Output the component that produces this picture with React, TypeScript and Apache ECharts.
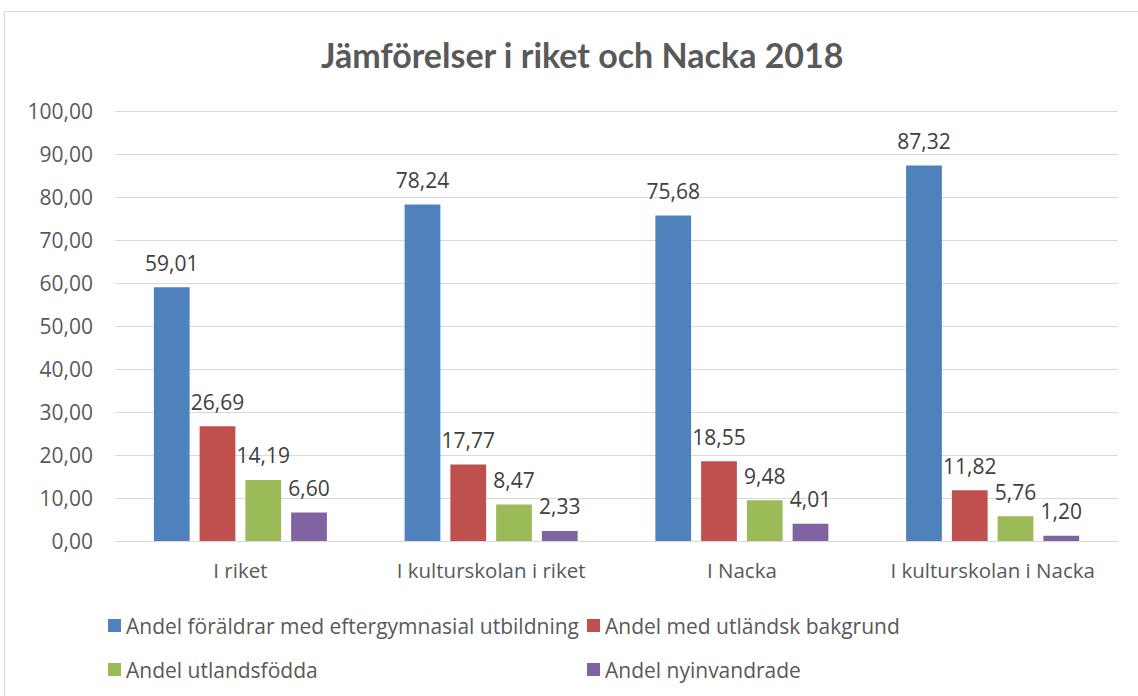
import React, { useEffect, useRef } from "react";
import * as echarts from "echarts";

const categories = ["I riket", "I kulturskolan i riket", "I Nacka", "I kulturskolan i Nacka"];
const seriesNames = [
  "Andel föräldrar med eftergymnasial utbildning",
  "Andel med utländsk bakgrund",
  "Andel utlandsfödda",
  "Andel nyinvandrade",
];
const foraldrar = [59.01, 78.24, 75.68, 87.32];
const utlandskBakgrund = [26.69, 17.77, 18.55, 11.82];
const utlandsfodda = [14.19, 8.47, 9.48, 5.76];
const nyinvandrade = [6.6, 2.33, 4.01, 1.2];
const seriesValues = [foraldrar, utlandskBakgrund, utlandsfodda, nyinvandrade];
const colors = ["#4F81BD", "#C0504D", "#9BBB59", "#8064A2"];

const fmt = (v: number) => v.toFixed(2).replace(".", ",");
const FONT = "Open Sans";
const TITLE_FONT = "Lato";

export default function App() {
  const ref = useRef<HTMLDivElement>(null);
  useEffect(() => {
    if (!ref.current) return;
    const chart = echarts.init(ref.current, undefined, { renderer: "svg" });
    const legendCommon = {
      orient: "vertical" as const,
      top: 610,
      itemWidth: 13,
      itemHeight: 13,
      itemGap: 23,
      icon: "rect",
      textStyle: { fontFamily: FONT, fontSize: 21, color: "#595959", padding: [0, 0, 0, 0] },
    };
    chart.setOption({
      animation: false,
      color: colors,
      title: {
        text: "Jämförelser i riket och Nacka 2018",
        left: 316,
        top: 32,
        textStyle: { fontFamily: TITLE_FONT, fontSize: 34, fontWeight: "bold", color: "#595959" },
      },
      graphic: [
        {
          type: "rect",
          shape: { x: 4.5, y: 11.5, width: 1200, height: 800 },
          style: { fill: "none", stroke: "#d9d9d9", lineWidth: 1 },
          silent: true,
        },
      ],
      legend: [
        { ...legendCommon, left: 103, data: [seriesNames[0], seriesNames[2]] },
        { ...legendCommon, left: 582, data: [seriesNames[1], seriesNames[3]] },
      ],
      grid: { left: 115, right: 20, top: 111, bottom: 155 },
      xAxis: {
        type: "category",
        data: categories,
        axisTick: { show: false },
        axisLine: { lineStyle: { color: "#d9d9d9", width: 1 } },
        axisLabel: {
          fontFamily: FONT,
          fontSize: 20.5,
          color: "#595959",
          margin: 18,
          interval: 0,
          hideOverlap: false,
        },
      },
      yAxis: {
        type: "value",
        min: 0,
        max: 100,
        interval: 10,
        axisLine: { show: false },
        axisTick: { show: false },
        splitLine: { lineStyle: { color: "#d9d9d9", width: 1 } },
        axisLabel: {
          fontFamily: FONT,
          fontSize: 21,
          color: "#595959",
          margin: 22,
          formatter: (v: number) => fmt(v),
        },
      },
      series: seriesValues.map((vals, i) => ({
        name: seriesNames[i],
        type: "bar",
        data: vals,
        barGap: "28%",
        barCategoryGap: "31%",
        itemStyle: { color: colors[i] },
        label: {
          show: true,
          position: "top",
          distance: 14,
          fontFamily: FONT,
          fontSize: 21,
          color: "#404040",
          formatter: (p: any) => fmt(p.value),
        },
      })),
    });
    return () => chart.dispose();
  }, []);
  return (
    <div
      ref={ref}
      style={{ position: "fixed", left: 0, top: 0, width: 1138, height: 696, background: "#fff" }}
    />
  );
}
